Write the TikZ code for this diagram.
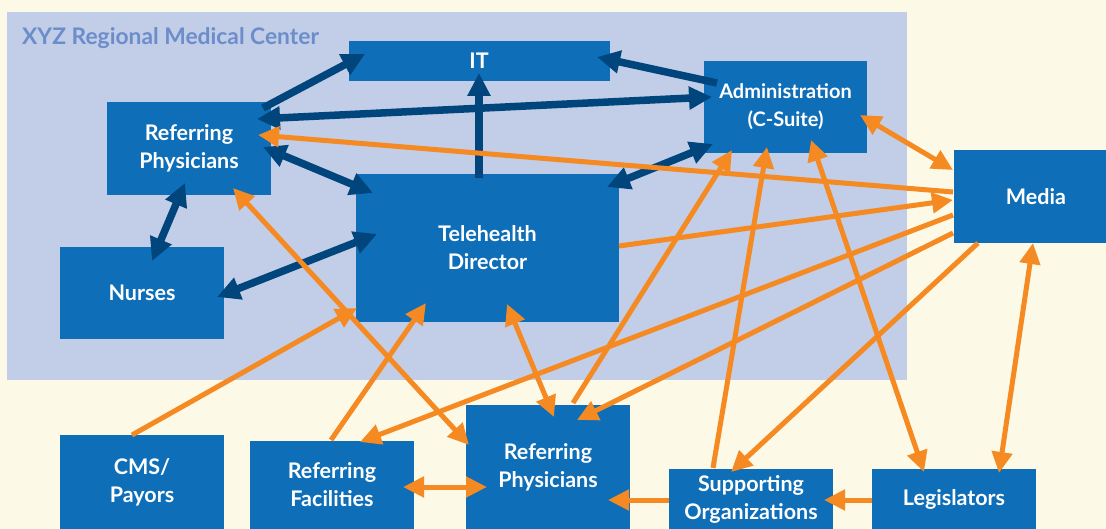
\documentclass[tikz,border=0pt]{standalone}
\usepackage{fontspec}
\setmainfont{Lato}
\usetikzlibrary{arrows.meta}
\definecolor{bgc}{HTML}{FDF9E7}
\definecolor{panelc}{HTML}{C2CDE7}
\definecolor{boxc}{HTML}{0E6EB8}
\definecolor{navyc}{HTML}{00457C}
\definecolor{orangec}{HTML}{F58A22}
\definecolor{titlec}{HTML}{6B8ECB}
\tikzset{
  box/.style={fill=boxc, text=white, inner sep=0pt, align=center,
    font=\bfseries\fontsize{21.5}{28}\selectfont},
  darr/.style={draw=navyc, line width=7.5pt},
  oarr/.style={draw=orangec, line width=5pt},
  dtip/.tip={Triangle[length=23pt,width=22pt]},
  otip/.tip={Triangle[length=21pt,width=20pt]},
}
\newcommand{\rel}[3]{([shift={(#2,#3)}]#1.center)}
\begin{document}
\begin{tikzpicture}[x=1pt,y=-1pt]
\clip (0,0) rectangle (1106,529);
\fill[bgc] (0,0) rectangle (1106,529);
\fill[panelc] (7,12) rectangle (907,380);
\node[anchor=base west, text=titlec, inner sep=0pt, font=\bfseries\fontsize{22.8}{26}\selectfont] (title) at (22,45) {XYZ Regional Medical Center};
% boxes
\node[box, minimum width=261pt, minimum height=40pt] (it) at (479,61) {IT};
\node[box, minimum width=163pt, minimum height=92pt, font=\bfseries\fontsize{20}{28}\selectfont] (adm) at (785.5,107) {Administration\\(C-Suite)};
\node[box, minimum width=164pt, minimum height=93pt] (rpt) at (189,148.5) {Referring\\Physicians};
\node[box, minimum width=263pt, minimum height=148pt] (th) at (487.5,248) {Telehealth\\Director};
\node[box, minimum width=164pt, minimum height=92pt] (nur) at (142,293) {Nurses};
\node[box, minimum width=164pt, minimum height=93pt] (med) at (1036,196.5) {Media};
\node[box, minimum width=164pt, minimum height=94pt] (cms) at (142,482) {CMS/\\Payors};
\node[box, minimum width=164pt, minimum height=88pt] (rf) at (332,485) {Referring\\Facilities};
\node[box, minimum width=164pt, minimum height=124pt] (rpb) at (548,467) {Referring\\Physicians};
\node[box, minimum width=164pt, minimum height=60pt] (sup) at (751,499) {Supporting\\Organizations};
\node[box, minimum width=164pt, minimum height=60pt] (leg) at (954,499) {Legislators};
% dark arrows
\draw[darr, -dtip] \rel{rpt}{74}{-40.5} -- \rel{it}{-114}{-7};
\draw[darr, dtip-dtip] \rel{rpt}{68}{-29.5} -- \rel{adm}{-73.5}{-10};
\draw[darr, -dtip] \rel{adm}{-68.5}{-24} -- \rel{it}{118}{-4};
\draw[darr, dtip-dtip] \rel{rpt}{74}{-1.5} -- \rel{th}{-114.5}{-55};
\draw[darr, -dtip] \rel{th}{-8.5}{-70} -- \rel{it}{0}{12};
\draw[darr, dtip-dtip] \rel{adm}{-72.5}{37} -- \rel{th}{119.5}{-61};
\draw[darr, dtip-dtip] \rel{nur}{75}{4} -- \rel{th}{-110.5}{-14};
\draw[darr, dtip-dtip] \rel{rpt}{-4}{34.5} -- \rel{nur}{10}{-32};
% orange arrows
\draw[oarr, -otip] \rel{med}{-83}{-4.5} -- \rel{rpt}{69}{-13.5};
\draw[oarr, -otip] \rel{th}{131.5}{-2} -- \rel{med}{-83}{3.5};
\draw[oarr, otip-otip] \rel{adm}{74.5}{8} -- \rel{med}{-83}{-26.5};
\draw[oarr, -otip] \rel{med}{-83}{18.5} -- \rel{rf}{28}{-43};
\draw[oarr, -otip] \rel{med}{-83}{36.5} -- \rel{rpb}{29}{-47};
\draw[oarr, -otip] \rel{med}{-58}{46.5} -- \rel{sup}{-20}{-27};
\draw[oarr, otip-otip] \rel{leg}{45}{-26} -- \rel{med}{-3}{46.5};
\draw[oarr, otip-otip] \rel{adm}{25.5}{33} -- \rel{leg}{-30}{-27};
\draw[oarr, -otip] \rel{sup}{-38}{-31} -- \rel{adm}{-18.5}{40};
\draw[oarr, -otip] \rel{rpb}{25}{-64} -- \rel{adm}{-53.5}{43};
\draw[oarr, -otip] \rel{cms}{-10}{-47} -- \rel{th}{-130.5}{60};
\draw[oarr, -otip] \rel{rf}{-1}{-45} -- \rel{th}{-61.5}{55};
\draw[oarr, otip-otip] \rel{rpt}{44}{39.5} -- \rel{rpb}{-79}{-22};
\draw[oarr, otip-otip] \rel{th}{19.5}{56} -- \rel{rpb}{6}{-50};
\draw[oarr, otip-otip] \rel{rf}{71}{2} -- \rel{rpb}{-61}{20};
\draw[oarr, -otip] \rel{sup}{-82}{1} -- \rel{rpb}{60}{33};
\draw[oarr, -otip] \rel{leg}{-82}{1} -- \rel{sup}{73}{1};
\end{tikzpicture}
\end{document}
